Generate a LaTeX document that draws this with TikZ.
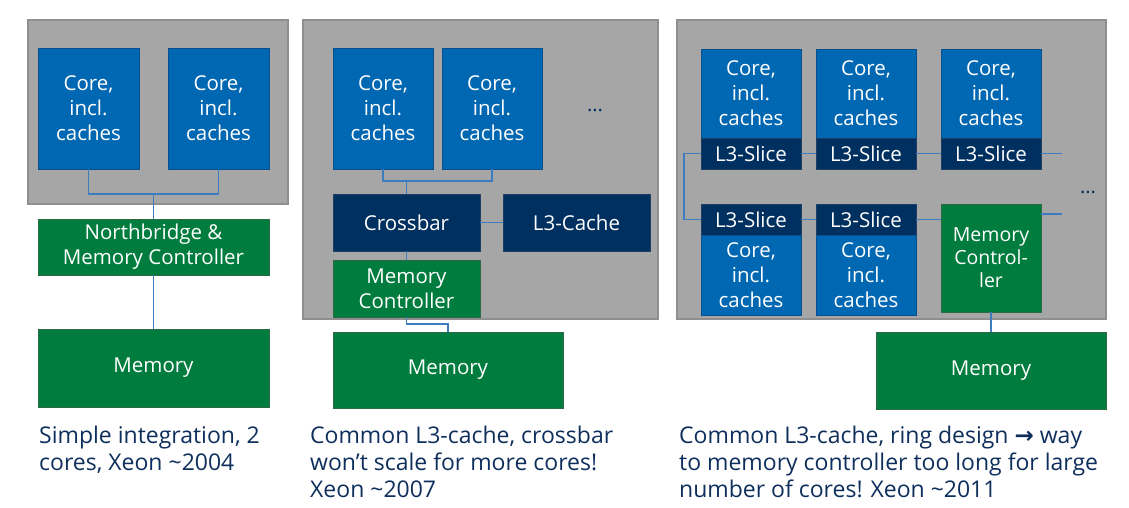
\documentclass[tikz,border=0pt]{standalone}
\usepackage{fontspec}
\setmainfont{Open Sans}
\newfontfamily\symfont{DejaVu Sans}
\usepackage{tikz}
\usetikzlibrary{calc}
\definecolor{diegray}{HTML}{A6A6A6}
\definecolor{dieedge}{HTML}{8F8F8F}
\definecolor{coreblue}{HTML}{0067B2}
\definecolor{coreedge}{HTML}{0A4F8C}
\definecolor{navy}{HTML}{00305F}
\definecolor{navyedge}{HTML}{1E3F66}
\definecolor{memgreen}{HTML}{007C3E}
\definecolor{memedge}{HTML}{2C6B45}
\definecolor{wireblue}{HTML}{3B7DC0}
\definecolor{captxt}{HTML}{0E2F5C}
\tikzset{die/.style={fill=diegray, draw=dieedge, line width=1.2pt},
  boxbase/.style={inner sep=0pt, align=center, text=white, line width=0.8pt,
    font=\fontsize{20.5}{25}\selectfont},
  core/.style={boxbase, fill=coreblue, draw=coreedge},
  slice/.style={boxbase, fill=navy, draw=navyedge},
  memctl/.style={boxbase, fill=memgreen, draw=memedge},
  wire/.style={draw=wireblue, line width=1.2pt},
  capt/.style={anchor=north west, align=left, text=captxt, inner sep=0pt,
    font=\fontsize{23}{27}\selectfont}}

\begin{document}
\begin{tikzpicture}[x=1pt, y=-1pt]
  \useasboundingbox (0,0) rectangle (1129,507);

  % ---------- panel 1: northbridge ----------
  \draw[die] (28,20) rectangle (288,204);
  \node[core, minimum width=101, minimum height=121] (c1a) at (88.5,108.5) {Core,\\incl.\\caches};
  \node[core, minimum width=101, minimum height=121] (c1b) at (218.5,108.5) {Core,\\incl.\\caches};
  \node[memctl, minimum width=231, minimum height=56] (nb1) at (153.5,247) {Northbridge \&\\Memory Controller};
  \node[memctl, minimum width=231, minimum height=78] (mem1) at (153.5,368) {Memory};
  \coordinate (j1) at (153.5,194);
  \draw[wire] (c1a.south) |- (j1) -| (c1b.south);
  \draw[wire] (j1) -- (nb1.north);
  \draw[wire] (nb1.south) -- (mem1.north);

  % ---------- panel 2: crossbar + shared L3 ----------
  \draw[die] (303,20) rectangle (658,319);
  \node[core, minimum width=100, minimum height=121] (c2a) at (383,108.5) {Core,\\incl.\\caches};
  \node[core, minimum width=100, minimum height=121] (c2b) at (492,108.5) {Core,\\incl.\\caches};
  \node[text=navy, font=\fontsize{20}{24}\selectfont] (dots2) at (595,110) {...};
  \node[slice, minimum width=147, minimum height=57] (xbar) at (406.5,222.5) {Crossbar};
  \node[slice, minimum width=147, minimum height=57] (l3) at (576.5,222.5) {L3-Cache};
  \node[memctl, minimum width=147, minimum height=57] (mc2) at (406.5,288.5) {Memory\\Controller};
  \node[memctl, minimum width=230, minimum height=76] (mem2) at (448,370) {Memory};
  \coordinate (j2) at (406.5,181);
  \coordinate (j3) at (448,324);
  \draw[wire] (c2a.south) |- (j2) -| (c2b.south);
  \draw[wire] (j2) -- (xbar.north);
  \draw[wire] (xbar.east) -- (l3.west);
  \draw[wire] (xbar.south) -- (mc2.north);
  \draw[wire] (mc2.south) |- (j3) -- (mem2.north);

  % ---------- panel 3: ring of L3 slices ----------
  \draw[die] (677,20) rectangle (1106,319);
  \foreach \x/\n in {751/1, 866/2, 991/3}{
    \node[core, minimum width=100, minimum height=89] (ct\n) at (\x,93.5) {Core,\\incl.\\caches};
    \node[slice, minimum width=100, minimum height=31] (st\n) at (\x,153.5) {L3-Slice};
  }
  \foreach \x/\n in {751/1, 866/2}{
    \node[slice, minimum width=100, minimum height=31] (sb\n) at (\x,219.5) {L3-Slice};
    \node[core, minimum width=100, minimum height=80] (cb\n) at (\x,275) {Core,\\incl.\\caches};
  }
  \node[memctl, minimum width=100, minimum height=108, font=\fontsize{19.5}{23}\selectfont] (mc3) at (991,258) {Memory\\Control-\\ler};
  \node[memctl, minimum width=230, minimum height=77] (mem3) at (991,370.5) {Memory};
  \node[text=navy, font=\fontsize{20}{24}\selectfont] (dots3) at (1088,192) {...};

  \coordinate (rl) at (684,186);
  \coordinate (re1) at (1062,153.5);
  \coordinate (re2) at (1062,214);
  \draw[wire] (st1.west) -| (rl) |- (sb1.west);
  \draw[wire] (st1.east) -- (st2.west);
  \draw[wire] (st2.east) -- (st3.west);
  \draw[wire] (st3.east) -- (re1);
  \draw[wire] (sb1.east) -- (sb2.west);
  \draw[wire] (sb2.east) -- (sb2.east -| mc3.west);
  \draw[wire] (re2 -| mc3.east) -- (re2);
  \draw[wire] (mc3.south) -- (mem3.north);

  % ---------- captions ----------
  \node[capt] (cap1) at (39,426) {Simple integration, 2\\cores, Xeon \textasciitilde 2004};
  \node[capt] (cap2) at (310,426) {Common L3-cache, crossbar\\won’t scale for more cores!\\Xeon \textasciitilde 2007};
  \node[capt] (cap3) at (679,426) {Common L3-cache, ring design {\symfont\bfseries →} way\\to memory controller too long for large\\number of cores! Xeon \textasciitilde 2011};

\end{tikzpicture}
\end{document}
